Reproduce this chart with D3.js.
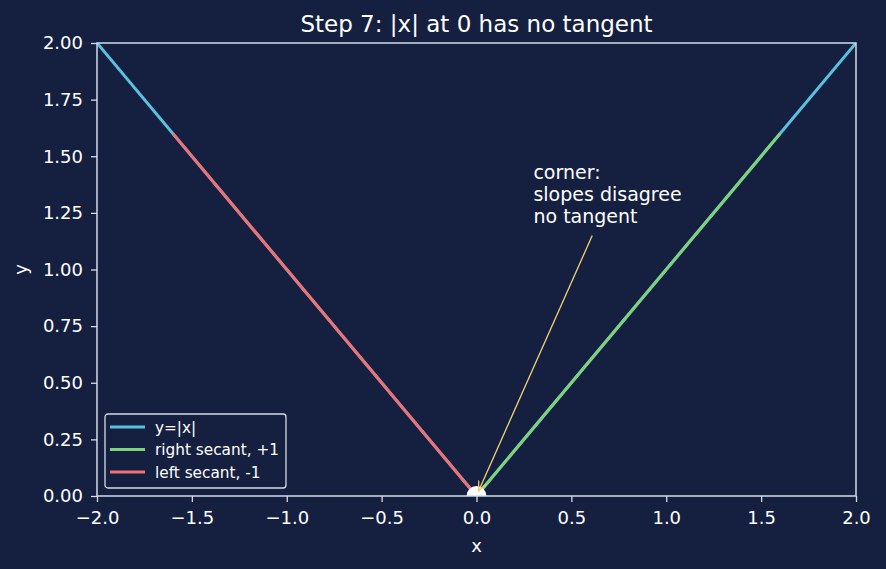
<!DOCTYPE html>
<html>
  <head>
    <meta charset="utf-8">
    <style>
      body { margin: 0; background: #152040; }
      text { font-family: "DejaVu Sans", sans-serif; fill: #ffffff; }
      .axis line { stroke: #d4dbe8; stroke-width: 1.3px; }
      .axis text { font-size: 18px; fill: #ffffff; font-family: "DejaVu Sans", sans-serif; }
    </style>
    <script src="https://d3js.org/d3.v7.min.js"></script>
  </head>
  <body>
    <svg class="chart"></svg>

    <script>
      // y = |x| and the two secants
      const absX = [-2, 0, 2];
      const absY = [2, 0, 2];
      const rightX = [0, 1.6];
      const rightY = [0, 1.6];
      const leftX = [-1.6, 0];
      const leftY = [1.6, 0];
      const xTicks = [-2, -1.5, -1, -0.5, 0, 0.5, 1, 1.5, 2];
      const yTicks = [0, 0.25, 0.5, 0.75, 1, 1.25, 1.5, 1.75, 2];
      const legendLabels = ['y=|x|', 'right secant, +1', 'left secant, -1'];
      const noteLines = ['corner:', 'slopes disagree', 'no tangent'];
      const notePos = [0.3, 1.2];
      const arrowFrom = [0.61, 1.15];
      const arrowTo = [0.01, 0.02];

      const width = 886;
      const height = 569;
      const margin = { top: 43, right: 30, bottom: 73, left: 97 };
      const w = width - margin.left - margin.right;
      const h = height - margin.top - margin.bottom;

      const colors = ['#5bc0de', '#7fd17a', '#f07073'];

      const root = d3.select('svg').attr('width', width).attr('height', height);
      root.append('rect').attr('width', width).attr('height', height).attr('fill', '#152040');

      const svg = root.append('g').attr('transform', `translate(${margin.left},${margin.top})`);

      const xScale = d3.scaleLinear().domain([-2, 2]).range([0, w]);
      const yScale = d3.scaleLinear().domain([0, 2]).range([h, 0]);

      svg.append('clipPath').attr('id', 'clip')
        .append('rect').attr('width', w).attr('height', h);

      const plot = svg.append('g').attr('clip-path', 'url(#clip)');

      const line = d3.line()
        .x(d => xScale(d[0]))
        .y(d => yScale(d[1]));

      const series = [
        d3.zip(absX, absY),
        d3.zip(rightX, rightY),
        d3.zip(leftX, leftY)
      ];

      series.forEach((s, i) => {
        plot.append('path')
          .datum(s)
          .attr('d', line)
          .attr('fill', 'none')
          .attr('stroke', colors[i])
          .attr('stroke-width', 3);
      });

      plot.append('circle')
        .attr('cx', xScale(0))
        .attr('cy', yScale(0))
        .attr('r', 10)
        .attr('fill', '#ffffff');

      // annotation arrow
      svg.append('defs').append('marker')
        .attr('id', 'head')
        .attr('viewBox', '0 0 10 10')
        .attr('refX', 10).attr('refY', 5)
        .attr('markerWidth', 8).attr('markerHeight', 8)
        .attr('orient', 'auto')
        .append('path')
        .attr('d', 'M0,1 L10,5 L0,9')
        .attr('fill', 'none')
        .attr('stroke', '#f0d072')
        .attr('stroke-width', 1.2);

      svg.append('line')
        .attr('x1', xScale(arrowFrom[0])).attr('y1', yScale(arrowFrom[1]))
        .attr('x2', xScale(arrowTo[0])).attr('y2', yScale(arrowTo[1]))
        .attr('stroke', '#f0d072')
        .attr('stroke-width', 1.3)
        .attr('marker-end', 'url(#head)');

      const note = svg.append('text')
        .attr('x', xScale(notePos[0]))
        .attr('y', yScale(notePos[1]) - 1)
        .attr('font-size', 19);
      noteLines.forEach((t, i) => {
        note.append('tspan')
          .attr('x', xScale(notePos[0]))
          .attr('dy', i === 0 ? -(noteLines.length - 1) * 22 : 22)
          .text(t);
      });

      // axes
      const xAxis = svg.append('g').attr('class', 'axis')
        .attr('transform', `translate(0,${h})`)
        .call(d3.axisBottom(xScale).tickValues(xTicks).tickSize(6).tickPadding(9)
          .tickFormat(d => d3.format('.1f')(d).replace('-', '\u2212')));
      const yAxis = svg.append('g').attr('class', 'axis')
        .call(d3.axisLeft(yScale).tickValues(yTicks).tickSize(6).tickPadding(8)
          .tickFormat(d3.format('.2f')));
      [xAxis, yAxis].forEach(a => a.select('.domain').remove());

      // spines
      svg.append('rect')
        .attr('width', w).attr('height', h)
        .attr('fill', 'none')
        .attr('stroke', '#d4dbe8')
        .attr('stroke-width', 1.5);

      svg.append('text')
        .attr('x', w / 2).attr('y', h + 56)
        .attr('text-anchor', 'middle')
        .attr('font-size', 18)
        .text('x');

      svg.append('text')
        .attr('transform', `translate(${-70},${h / 2}) rotate(-90)`)
        .attr('text-anchor', 'middle')
        .attr('font-size', 18)
        .text('y');

      root.append('text')
        .attr('x', margin.left + w / 2).attr('y', 32)
        .attr('text-anchor', 'middle')
        .attr('font-size', 23)
        .text('Step 7: |x| at 0 has no tangent');

      // legend
      const legend = svg.append('g').attr('transform', `translate(8,${h - 82})`);
      legend.append('rect')
        .attr('width', 181).attr('height', 74)
        .attr('rx', 3)
        .attr('fill', '#152040')
        .attr('fill-opacity', 0.8)
        .attr('stroke', '#d4dbe8')
        .attr('stroke-width', 1.3);
      legendLabels.forEach((lab, i) => {
        const y = 13 + i * 22.5;
        legend.append('line')
          .attr('x1', 5).attr('x2', 40)
          .attr('y1', y).attr('y2', y)
          .attr('stroke', colors[i])
          .attr('stroke-width', 3);
        legend.append('text')
          .attr('x', 50).attr('y', y + 5.5)
          .attr('font-size', 15.3)
          .text(lab);
      });
    </script>
  </body>
</html>
